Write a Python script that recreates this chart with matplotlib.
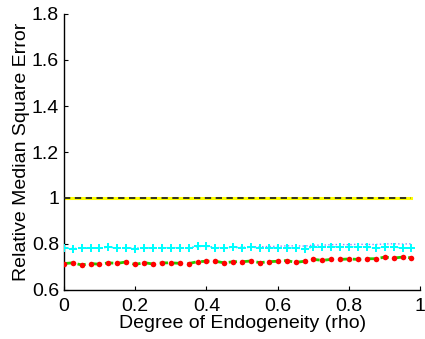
import numpy as np
import matplotlib
matplotlib.use("Agg")
import matplotlib.pyplot as plt

rho = np.arange(40) * 0.025

baseline = [1.0] * 40

red_vals = [0.715, 0.718, 0.709, 0.715, 0.712, 0.718, 0.716, 0.722, 0.711, 0.719,
            0.713, 0.718, 0.718, 0.716, 0.715, 0.723, 0.725, 0.725, 0.718, 0.723,
            0.723, 0.726, 0.719, 0.723, 0.725, 0.728, 0.720, 0.725, 0.733, 0.729,
            0.733, 0.733, 0.735, 0.733, 0.736, 0.736, 0.743, 0.739, 0.743, 0.740]

cyan_vals = [0.783, 0.779, 0.782, 0.782, 0.782, 0.787, 0.783, 0.784, 0.780, 0.784,
             0.782, 0.784, 0.784, 0.784, 0.782, 0.790, 0.791, 0.784, 0.782, 0.786,
             0.782, 0.786, 0.783, 0.784, 0.782, 0.784, 0.782, 0.779, 0.786, 0.786,
             0.787, 0.789, 0.787, 0.789, 0.786, 0.782, 0.786, 0.786, 0.783, 0.782]

blue_vals = [0.783, 0.780, 0.782, 0.782, 0.783, 0.786, 0.783, 0.784, 0.781, 0.784,
             0.782, 0.784, 0.784, 0.784, 0.783, 0.789, 0.790, 0.785, 0.783, 0.787,
             0.785, 0.788, 0.788, 0.789, 0.790, 0.792, 0.792, 0.791, 0.795, 0.795,
             0.797, 0.798, 0.797, 0.799, 0.798, 0.798, 0.800, 0.801, 0.800, 0.801]

xticks = [0, 0.2, 0.4, 0.6, 0.8, 1]
xticklabels = ["0", "0.2", "0.4", "0.6", "0.8", "1"]
yticks = [0.6, 0.8, 1.0, 1.2, 1.4, 1.6, 1.8]
yticklabels = ["0.6", "0.8", "1", "1.2", "1.4", "1.6", "1.8"]

plt.rcParams['font.family'] = ['Liberation Sans', 'DejaVu Sans']

fig = plt.figure(figsize=(4.25, 3.39), dpi=100)
ax = fig.add_axes([63.8/425, (339-290)/339, (420.4-63.8)/425, (290-14)/339])

ax.plot(rho, baseline, color='#ffff00', lw=2.2, zorder=2)
ax.plot(rho, baseline, color='#222222', lw=1.3, ls=(0, (3.5, 2.5)), zorder=3)

ax.plot(rho, blue_vals, color='#8888ff', lw=1.0, ls=':', zorder=2)
ax.plot(rho, cyan_vals, color='#00ffff', lw=1.0, ls=':', marker='P',
        markersize=5.5, markeredgewidth=0, zorder=3)

ax.plot(rho, red_vals, color='#22cc00', lw=2.0, ls=(0, (3, 2)), zorder=2)
ax.plot(rho, red_vals, color='#ff0000', lw=0, marker='o', markersize=4,
        markeredgewidth=0, zorder=3)

ax.set_xlim(0, 1)
ax.set_ylim(0.6, 1.8)
ax.set_xticks(xticks)
ax.set_xticklabels(xticklabels)
ax.set_yticks(yticks)
ax.set_yticklabels(yticklabels)
ax.tick_params(direction='in', length=3, width=0.8, labelsize=14, colors='black')
ax.tick_params(axis='x', pad=5.5)
ax.tick_params(axis='y', pad=3.5)
ax.spines['top'].set_visible(False)
ax.spines['right'].set_visible(False)
for s in ['left', 'bottom']:
    ax.spines[s].set_linewidth(1.0)
ax.set_xlabel("Degree of Endogeneity (rho)", fontsize=14, labelpad=0)
ax.set_ylabel("Relative Median Square Error", fontsize=14, labelpad=1)

fig.savefig("out.png", dpi=100)
